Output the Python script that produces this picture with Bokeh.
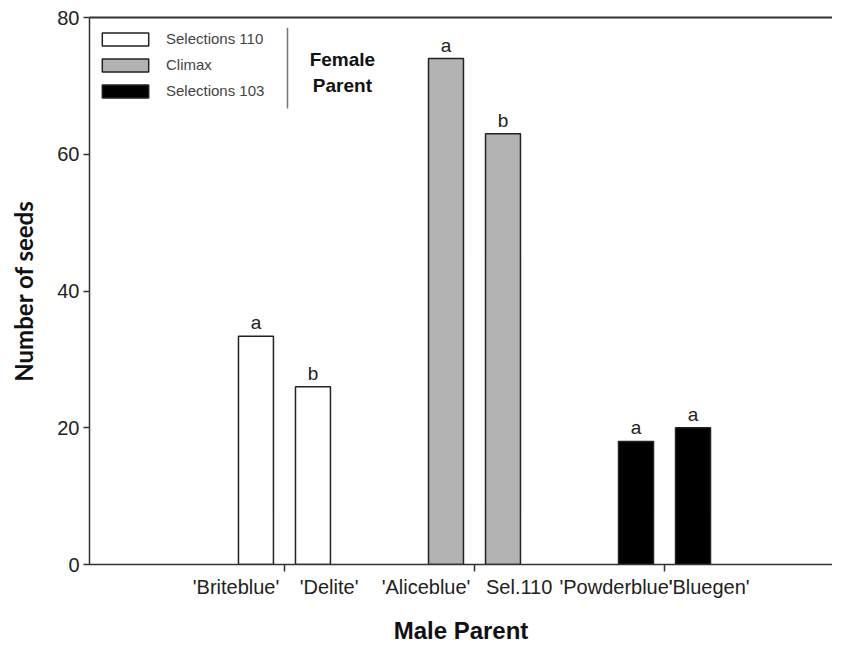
from bokeh.plotting import figure
from bokeh.models import (ColumnDataSource, FixedTicker, Range1d, LinearAxis,
                          Label, Legend, LegendItem)
from bokeh.embed import file_html
from bokeh.resources import INLINE
from bokeh.core.properties import value

# ---------------- data ----------------
female_parents = ["Selections 110", "Climax", "Selections 103"]
male_parents = ["'Briteblue'", "'Delite'", "'Aliceblue'", "Sel.110", "'Powderblue'", "'Bluegen'"]
seeds = [33.4, 26.0, 74.0, 63.0, 18.0, 20.0]
letters = ["a", "b", "a", "b", "a", "a"]
group_of = [0, 0, 1, 1, 2, 2]
fill_colors = ["#ffffff", "#b3b3b3", "#000000"]
y_ticks = [0, 20, 40, 60, 80]

# ---------------- layout helpers ----------------
group_centers = [1.0, 2.0, 3.0]
bar_offset = 0.15
bar_width = 0.184
label_shift = [-0.255, 0.235]

xs = [group_centers[g] + (bar_offset if i % 2 else -bar_offset) for i, g in enumerate(group_of)]
label_pos = [group_centers[g] + label_shift[i % 2] for i, g in enumerate(group_of)]

p = figure(width=832, height=646, output_backend="svg", toolbar_location=None,
           x_range=Range1d(-0.026, 3.884), y_range=Range1d(0, 80),
           min_border_left=89, min_border_top=17, min_border_right=0, min_border_bottom=0)
p.outline_line_color = None
p.grid.visible = False
p.background_fill_color = "white"
p.border_fill_color = "white"

axis_color = "#333333"

renderers = []
for g in range(3):
    idx = [i for i in range(len(seeds)) if group_of[i] == g]
    src = ColumnDataSource(dict(x=[xs[i] for i in idx], top=[seeds[i] for i in idx],
                                lab=[letters[i] for i in idx]))
    r = p.vbar(x="x", top="top", bottom=0, width=bar_width, source=src,
               fill_color=fill_colors[g], line_color="#222222", line_width=1.5)
    renderers.append(r)
    p.text(x="x", y="top", text="lab", source=src, text_align="center",
           text_baseline="bottom", y_offset=-3, text_font=value("Liberation Sans"),
           text_font_size="19px", text_color="#222222")

# x axis
xa = p.xaxis[0]
xa.ticker = FixedTicker(ticks=label_pos, minor_ticks=group_centers)
xa.major_label_overrides = {pos: lab for pos, lab in zip(label_pos, male_parents)}
xa.major_tick_out = 0
xa.major_tick_in = 0
xa.minor_tick_out = 7
xa.minor_tick_in = 0
xa.minor_tick_line_color = axis_color
xa.minor_tick_line_width = 1.5
xa.major_label_standoff = 4
xa.major_label_text_font = "Liberation Sans"
xa.major_label_text_font_size = "20px"
xa.major_label_text_color = "#222222"
xa.axis_line_color = axis_color
xa.axis_line_width = 1.5
xa.axis_label = "Male Parent"
xa.axis_label_text_font = "Liberation Sans"
xa.axis_label_text_font_style = "bold"
xa.axis_label_text_font_size = "24px"
xa.axis_label_text_color = "#111111"
xa.axis_label_standoff = 16

# y axis
ya = p.yaxis[0]
ya.ticker = FixedTicker(ticks=y_ticks, minor_ticks=[])
ya.major_tick_out = 6
ya.major_tick_in = 0
ya.major_tick_line_color = axis_color
ya.major_tick_line_width = 1.5
ya.minor_tick_out = 0
ya.major_label_standoff = 4
ya.major_label_text_font = "Liberation Sans"
ya.major_label_text_font_size = "20px"
ya.major_label_text_color = "#222222"
ya.axis_line_color = axis_color
ya.axis_line_width = 1.5
ya.axis_label = "Number of seeds"
ya.axis_label_text_font = "Lato"
ya.axis_label_text_font_style = "bold"
ya.axis_label_text_font_size = "24px"
ya.axis_label_text_color = "#111111"
ya.axis_label_standoff = 16

# top frame line
top_axis = LinearAxis(ticker=FixedTicker(ticks=[]), major_tick_out=0, major_tick_in=0,
                      minor_tick_out=0, minor_tick_in=0, major_label_text_font_size="0px",
                      axis_line_color=axis_color, axis_line_width=2)
p.add_layout(top_axis, "above")

# legend
legend = Legend(items=[LegendItem(label=female_parents[g], renderers=[renderers[g]]) for g in range(3)],
                location="top_left", border_line_color=None, background_fill_alpha=0,
                glyph_width=58, glyph_height=16, label_height=14, spacing=9,
                label_standoff=12, padding=10, margin=7,
                title=" ", title_text_font_size="1px", title_standoff=5,
                label_text_font="Liberation Sans", label_text_font_size="15px",
                label_text_color="#444444")
p.add_layout(legend)

# "Female Parent" annotation with separator
p.segment(x0=[1.016], y0=[78.5], x1=[1.016], y1=[66.7], line_color="#777777", line_width=1.5)
for txt, yy in [("Female", 73.8), ("Parent", 70.0)]:
    p.add_layout(Label(x=1.305, y=yy, text=txt, text_align="center", text_baseline="middle",
                       text_font="Liberation Sans", text_font_style="bold",
                       text_font_size="19px", text_color="#111111"))

open("out.html", "w").write(file_html(p, INLINE))
